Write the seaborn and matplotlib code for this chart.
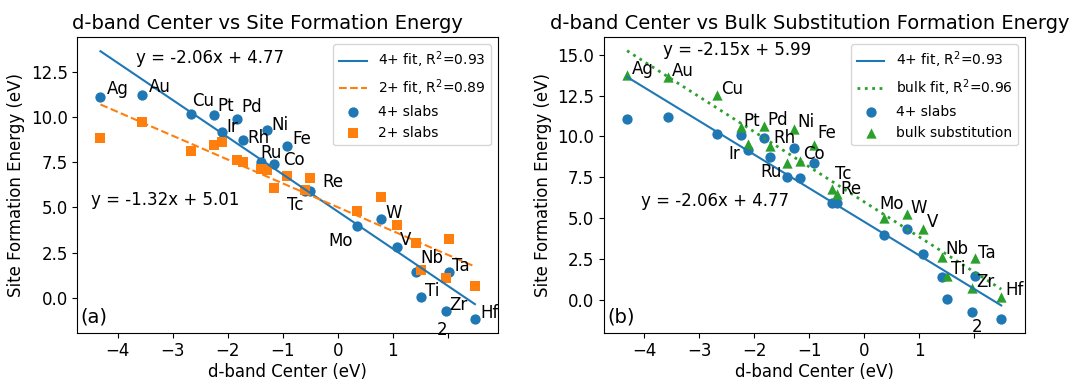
import matplotlib
matplotlib.use("Agg")
import matplotlib.pyplot as plt
import matplotlib.transforms as mtransforms
import numpy as np
import pandas as pd
import seaborn as sns

# ---- data -------------------------------------------------------------
elements = ["Ag", "Au", "Cu", "Pt", "Pd", "Ir", "Rh", "Ni", "Fe", "Ru", "Co",
            "Tc", "Re", "Mo", "W", "V", "Nb", "Ta", "Ti", "Zr", "Hf"]
d_band = [-4.31, -3.565, -2.67, -2.245, -1.825, -2.107, -1.72, -1.28, -0.915,
          -1.40, -1.167, -0.59, -0.50, 0.355, 0.777, 1.07, 1.42, 2.012, 1.51,
          1.965, 2.49]
e_4plus = [11.09, 11.22, 10.15, 10.10, 9.90, 9.15, 8.72, 9.30, 8.40, 7.54,
           7.43, 5.93, 5.90, 3.95, 4.35, 2.80, 1.40, 1.42, 0.02, -0.76, -1.20]
e_2plus = [8.84, 9.73, 8.10, 8.43, 7.60, 8.62, 7.51, 7.05, 6.72, 7.10, 6.07,
           5.97, 6.60, 4.81, 5.55, 4.03, 3.02, 3.24, 1.54, 1.07, 0.65]
e_bulk = [13.77, 13.67, 12.52, 10.56, 10.66, 9.53, 9.43, 10.45, 9.47, 8.35,
          8.49, 6.76, 6.49, 5.01, 5.22, 4.32, 2.62, 2.52, 1.43, 0.71, 0.16]

fit_4plus = (-2.06, 4.77, 0.93)   # slope, intercept, R^2
fit_2plus = (-1.32, 5.01, 0.89)
fit_bulk = (-2.15, 5.99, 0.96)

# ---- label placement (pixel offsets from each marker) ------------------
offsets_a = {"Ag": (6.7, 3.7), "Au": (7.3, 3.3), "Cu": (1.4, 8.3),
             "Pt": (3.6, 4), "Pd": (4.4, 6.7), "Ir": (4.4, 0.6),
             "Rh": (4.7, -3), "Ni": (4, 0), "Fe": (4.7, 2), "Ru": (-0.7, 3.4),
             "Co": (9.4, -1.3), "Tc": (-18.5, -19.9), "Re": (11.7, 4),
             "Mo": (-28.9, -19.2), "W": (5, 0.7), "V": (3.3, 1.7),
             "Nb": (4.3, 9), "Ta": (3.4, 1), "Ti": (4.3, 1), "Zr": (3.6, 1),
             "Hf": (5, 1)}
offsets_b = {"Ag": (4.4, 0.7), "Au": (3.4, 1), "Cu": (3.4, 1),
             "Pt": (3, 1.6), "Pd": (4, 0.7), "Ir": (-20, -15.3),
             "Rh": (3.3, 2.4), "Ni": (3.3, 1.7), "Fe": (3.7, 6.7),
             "Ru": (-27.3, -13.4), "Co": (3.3, 1.7), "Tc": (3.3, 10),
             "Re": (3.3, -0.7), "Mo": (-4.3, 8.4), "W": (3.4, 1),
             "V": (3.4, 1.7), "Nb": (3.3, 2.7), "Ta": (3.3, 0.6),
             "Ti": (4, 2.7), "Zr": (3.7, 1), "Hf": (4.3, 1.7)}

BLUE, ORANGE, GREEN = "#1f77b4", "#ff7f0e", "#2ca02c"

df = pd.DataFrame({"element": elements, "d_band": d_band, "e4": e_4plus,
                   "e2": e_2plus, "bulk": e_bulk})


def fit_frame(slope, intercept):
    xs = np.array([df["d_band"].min(), df["d_band"].max()])
    return pd.DataFrame({"x": xs, "y": slope * xs + intercept})


def eq_text(slope, intercept):
    return f"y = {slope:.2f}x + {intercept:.2f}"


def fit_label(name, r2):
    return f"{name} fit, R$^2$={r2:.2f}"


plt.rcParams["font.family"] = ["DejaVu Sans"]
fig = plt.figure(figsize=(10.88, 3.81), dpi=100)
ax_a = fig.add_axes([0.0711, 0.1268, 0.3864, 0.7753])
ax_b = fig.add_axes([0.5551, 0.1268, 0.3869, 0.7753])

# ---- panel (a): slabs ------------------------------------------------
sns.lineplot(data=fit_frame(*fit_4plus[:2]), x="x", y="y", ax=ax_a,
             color=BLUE, lw=1.5, label=fit_label("4+", fit_4plus[2]))
sns.lineplot(data=fit_frame(*fit_2plus[:2]), x="x", y="y", ax=ax_a,
             color=ORANGE, lw=1.5, linestyle="--",
             label=fit_label("2+", fit_2plus[2]))
sns.scatterplot(data=df, x="d_band", y="e4", ax=ax_a, color=BLUE, s=55,
                marker="o", linewidth=0, label="4+ slabs")
sns.scatterplot(data=df, x="d_band", y="e2", ax=ax_a, color=ORANGE, s=55,
                marker="s", linewidth=0, label="2+ slabs")
for _, row in df.iterrows():
    ax_a.annotate(row["element"], (row["d_band"], row["e4"]),
                  xytext=offsets_a[row["element"]], textcoords="offset pixels",
                  ha="left", va="baseline", fontsize=12)
ax_a.text(-2.32, 13.28, eq_text(*fit_4plus[:2]), ha="center", va="center",
          fontsize=12)
ax_a.text(-3.127, 5.42, eq_text(*fit_2plus[:2]), ha="center", va="center",
          fontsize=12)
ax_a.set_title("d-band Center vs Site Formation Energy", fontsize=14,
               x=0.452)
ax_a.set_xlim(-4.73, 2.905)
ax_a.set_ylim(-1.94, 14.42)
ax_a.legend(loc="upper right", fontsize=10)

# ---- panel (b): bulk substitution ------------------------------------
sns.lineplot(data=fit_frame(*fit_4plus[:2]), x="x", y="y", ax=ax_b,
             color=BLUE, lw=1.5, label=fit_label("4+", fit_4plus[2]))
sns.lineplot(data=fit_frame(*fit_bulk[:2]), x="x", y="y", ax=ax_b,
             color=GREEN, lw=2, linestyle=":",
             label=fit_label("bulk", fit_bulk[2]))
sns.scatterplot(data=df, x="d_band", y="e4", ax=ax_b, color=BLUE, s=55,
                marker="o", linewidth=0, label="4+ slabs")
sns.scatterplot(data=df, x="d_band", y="bulk", ax=ax_b, color=GREEN, s=55,
                marker="^", linewidth=0, label="bulk substitution")
for _, row in df.iterrows():
    ax_b.annotate(row["element"], (row["d_band"], row["bulk"]),
                  xytext=offsets_b[row["element"]], textcoords="offset pixels",
                  ha="left", va="baseline", fontsize=12)
ax_b.text(-2.31, 15.3, eq_text(*fit_bulk[:2]), ha="center", va="center",
          fontsize=12)
ax_b.text(-2.71, 6.03, eq_text(*fit_4plus[:2]), ha="center", va="center",
          fontsize=12)
ax_b.set_title("d-band Center vs Bulk Substitution Formation Energy",
               fontsize=14, x=0.488)
ax_b.set_xlim(-4.73, 2.92)
ax_b.set_ylim(-2.03, 16.08)
ax_b.legend(loc="upper right", fontsize=10)

# ---- shared axis styling ----------------------------------------------
xt = [-4, -3, -2, -1, 0, 1, 2]
for ax, tag, two_xy in ((ax_a, "(a)", (1.89, 0.009)),
                        (ax_b, "(b)", (2.05, 0.02))):
    ax.set_xticks(xt)
    ax.set_xticklabels(["\u22124", "\u22123", "\u22122", "\u22121", "0", "1",
                        ""])
    ax.tick_params(labelsize=12)
    ax.set_xlabel("d-band Center (eV)", fontsize=12, labelpad=2)
    ax.set_ylabel("Site Formation Energy (eV)", fontsize=12)
    ax.text(0.008, 0.02, tag, transform=ax.transAxes, ha="left",
            va="bottom", fontsize=14)
    blend = mtransforms.blended_transform_factory(ax.transData, ax.transAxes)
    ax.text(two_xy[0], two_xy[1], "2", transform=blend, ha="center",
            va="center", fontsize=12)

fig.savefig("out.png", dpi=100)
